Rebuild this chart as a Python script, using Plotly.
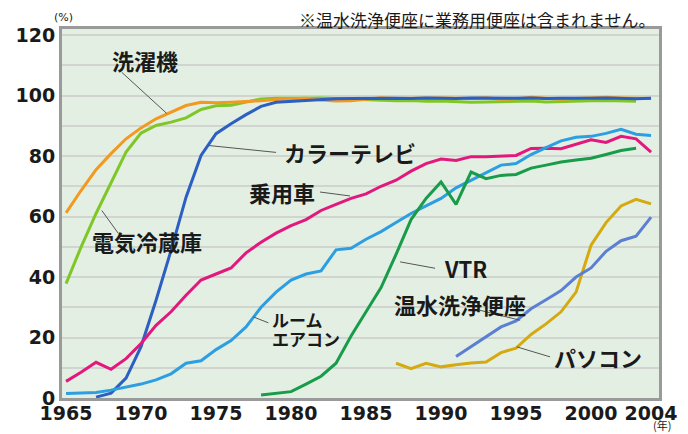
import plotly.graph_objects as go

# ---------------- data ----------------
years_65_04 = list(range(1965, 2005))
washer = [61.2, 68.6, 75.5, 80.8, 85.7, 89.3, 92.3, 94.5, 96.7, 97.8,
          97.6, 97.8, 98.0, 98.3, 98.7, 98.8, 99.1, 98.5, 98.2, 98.3,
          98.9, 99.3, 99.0, 99.1, 99.0, 99.2, 99.1, 99.0, 99.3, 98.8,
          98.9, 99.4, 99.1, 98.8, 99.0, 99.3, 99.4, 99.2, 99.0, 99.0]

years_65_03 = list(range(1965, 2004))
fridge = [37.8, 49.9, 61.0, 71.4, 81.3, 87.6, 90.1, 91.2, 92.6, 95.4,
          96.6, 96.8, 97.8, 98.9, 99.1, 99.0, 99.1, 99.2, 99.0, 98.9,
          98.8, 98.5, 98.3, 98.4, 98.1, 98.2, 98.0, 97.8, 97.9, 98.0,
          98.1, 98.2, 97.9, 98.1, 98.3, 98.3, 98.4, 98.2, 98.1]

years_67_04 = list(range(1967, 2005))
color_tv = [0.3, 1.6, 6.6, 17.0, 32.3, 48.8, 66.4, 80.2, 87.4, 90.7,
            93.7, 96.4, 97.8, 98.1, 98.5, 98.8, 98.9, 99.0, 99.1, 99.0,
            99.1, 99.0, 99.2, 99.1, 99.0, 99.2, 99.1, 99.0, 99.1, 99.2,
            99.0, 99.1, 99.0, 99.1, 99.2, 99.0, 98.9, 99.1]

car = [5.5, 8.5, 11.8, 9.5, 13.0, 18.0, 24.0, 28.5, 34.0, 39.0,
       41.0, 43.0, 48.0, 51.5, 54.5, 57.0, 59.0, 62.0, 64.0, 66.0,
       67.5, 70.0, 72.0, 75.0, 77.5, 79.0, 78.5, 79.8, 79.8, 80.0,
       80.2, 82.5, 82.6, 82.4, 84.0, 85.4, 84.5, 86.5, 85.7, 81.3]

room_ac = [1.5, 1.6, 1.8, 2.6, 3.5, 4.6, 6.0, 8.0, 11.5, 12.3,
           16.0, 19.0, 23.5, 30.0, 35.0, 39.0, 41.0, 42.0, 49.0, 49.5,
           52.5, 55.0, 58.0, 61.0, 63.5, 66.0, 69.5, 72.0, 74.5, 77.0,
           77.5, 80.5, 82.8, 85.0, 86.2, 86.5, 87.5, 88.8, 87.2, 86.8]

years_78_03 = list(range(1978, 2004))
vtr = [1.0, 1.6, 2.1, 4.6, 7.2, 11.5, 20.5, 28.5, 36.5, 47.5,
       59.0, 66.0, 71.4, 64.0, 74.7, 72.5, 73.6, 73.9, 76.0, 77.0,
       78.0, 78.7, 79.3, 80.5, 81.8, 82.6]

years_87_04 = list(range(1987, 2005))
pc = [11.5, 9.7, 11.5, 10.3, 11.0, 11.6, 11.9, 15.0, 16.5, 21.0,
      24.5, 28.5, 35.0, 50.5, 58.0, 63.5, 65.7, 64.2]

years_91_04 = list(range(1991, 2005))
toilet = [13.7, 17.0, 20.5, 23.5, 25.5, 29.5, 32.5, 35.5, 40.0, 43.0,
          48.5, 52.0, 53.5, 59.8]

x_tick_vals = [1965, 1970, 1975, 1980, 1985, 1990, 1995, 2000, 2004]
x_tick_text = ["1965", "1970", "1975", "1980", "1985", "1990", "1995", "2000", "2004"]
y_tick_vals = [0, 20, 40, 60, 80, 100, 120]

# ---------------- figure ----------------
series = [
    ("電気冷蔵庫", years_65_03, fridge, "#7fc727"),
    ("洗濯機", years_65_04, washer, "#f2991f"),
    ("カラーテレビ", years_67_04, color_tv, "#2b5fc2"),
    ("乗用車", years_65_04, car, "#e3187c"),
    ("ルームエアコン", years_65_04, room_ac, "#2c9ee2"),
    ("VTR", years_78_03, vtr, "#189c4a"),
    ("パソコン", years_87_04, pc, "#d4aa10"),
    ("温水洗浄便座", years_91_04, toilet, "#5b7fd2"),
]

fig = go.Figure()
for name, xs, ys, col in series:
    fig.add_trace(go.Scatter(x=xs, y=ys, mode="lines", name=name,
                             line=dict(color=col, width=3), hoverinfo="skip"))

label_font = dict(family="Noto Sans CJK JP", size=22, color="#1a1a1a", weight="bold")
small_label_font = dict(family="Noto Sans CJK JP", size=17, color="#1a1a1a", weight="bold")

# labels: text, x, y, xanchor, font, leader (x0, y0, x1, y1)
labels = [
    ("洗濯機", 1967.93, 111.6, "left", label_font, (1968.71, 107.7, 1971.71, 94.1)),
    ("カラーテレビ", 1979.4, 81.3, "left", label_font, (1974.47, 83.5, 1979.0, 81.2)),
    ("乗用車", 1981.73, 68.1, "right", label_font, (1981.93, 68.1, 1983.93, 66.8)),
    ("電気冷蔵庫", 1966.6, 52.0, "left", label_font, (1967.38, 62.0, 1968.49, 54.4)),
    ("VTR", 1990.07, 43.1, "left", label_font, (1987.27, 45.0, 1989.6, 42.9)),
    ("温水洗浄便座", 1986.73, 31.2, "left", label_font, (1992.6, 29.0, 1995.27, 25.7)),
    ("ルーム", 1978.6, 25.8, "left", small_label_font, (1977.49, 26.8, 1978.49, 24.85)),
    ("エアコン", 1978.6, 19.6, "left", small_label_font, None),
    ("パソコン", 1997.4, 13.4, "left", label_font, (1995.05, 16.9, 1997.27, 13.6)),
]
for text, x, y, xa, fnt, leader in labels:
    fig.add_annotation(x=x, y=y, xref="x", yref="y", text=text, showarrow=False,
                       xanchor=xa, yanchor="middle", font=fnt)
    if leader:
        x0, y0, x1, y1 = leader
        fig.add_shape(type="line", xref="x", yref="y", x0=x0, y0=y0, x1=x1, y1=y1,
                      line=dict(color="#555555", width=1))

fig.add_annotation(x=0.998, y=1.027, xref="paper", yref="paper",
                   text="※温水洗浄便座に業務用便座は含まれません。", showarrow=False,
                   xanchor="right", yanchor="middle",
                   font=dict(family="Noto Sans CJK JP", size=17, color="#1a1a1a"))
fig.add_annotation(x=-0.017, y=1.03, xref="paper", yref="paper", text="(%)",
                   showarrow=False, xanchor="left", yanchor="middle",
                   font=dict(family="DejaVu Sans", size=11, color="#1a1a1a"))
fig.add_annotation(x=1.005, y=-0.074, xref="paper", yref="paper", text="(年)",
                   showarrow=False, xanchor="center", yanchor="middle",
                   font=dict(family="Noto Sans CJK JP", size=11, color="#1a1a1a"))

tick_font = dict(family="DejaVu Sans", size=19, color="#1a1a1a", weight="bold")

# The page body keeps an 8px default margin, so the figure is 8px smaller
# and its margins are shifted accordingly.
fig.update_layout(
    width=680, height=426,
    margin=dict(l=54, r=29, t=21, b=36, autoexpand=False),
    paper_bgcolor="white",
    plot_bgcolor="#e4efe4",
    showlegend=False,
    xaxis=dict(range=[1964.73, 2004.53], tickvals=x_tick_vals, ticktext=x_tick_text,
               automargin=False, ticklabelstandoff=-4,
               showgrid=False, zeroline=False, showline=True, mirror=True,
               linecolor="#9a9a9a", linewidth=3, ticks="", tickfont=tick_font),
    yaxis=dict(range=[0, 122], tickvals=y_tick_vals, automargin=False,
               showgrid=True, gridcolor="#d0d5d0", gridwidth=1.5, zeroline=False,
               showline=True, mirror=True, linecolor="#9a9a9a", linewidth=3, ticks="",
               minor=dict(dtick=10, tick0=0, showgrid=True, gridcolor="#d0d5d0", gridwidth=1.5),
               tickfont=tick_font),
)

fig.write_html("out.html")
